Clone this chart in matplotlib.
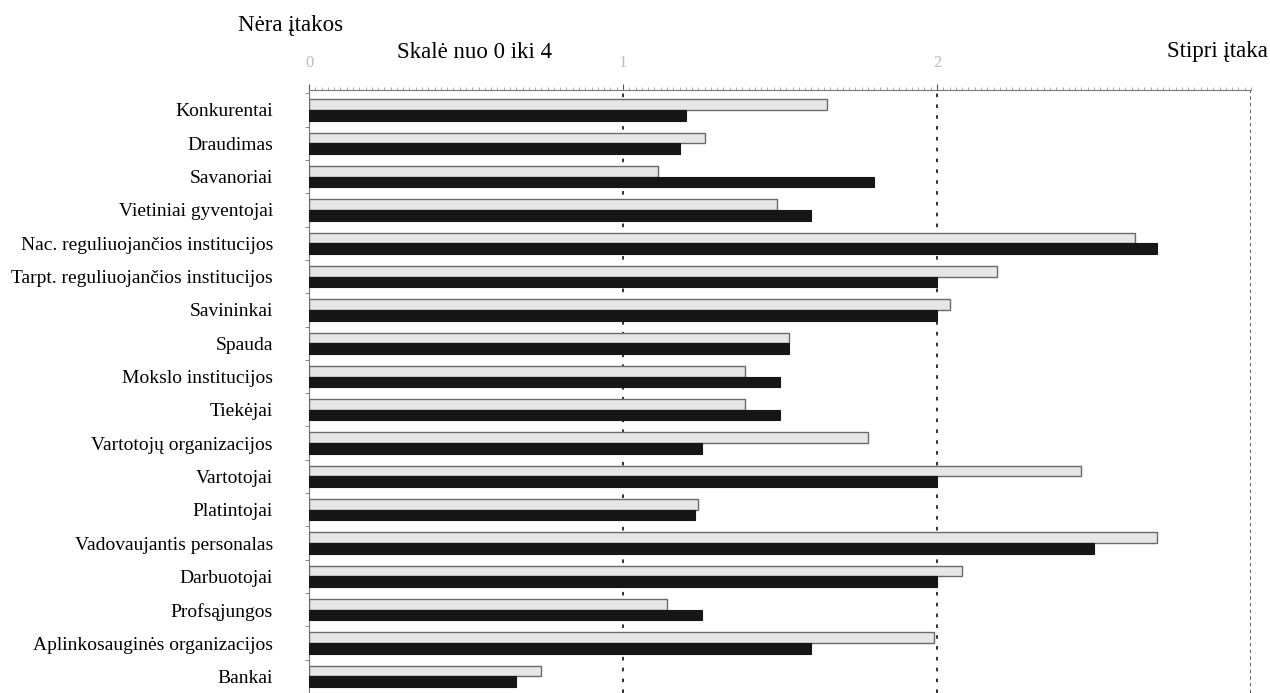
import numpy as np
import matplotlib.pyplot as plt
from matplotlib.ticker import MultipleLocator

plt.rcParams['font.family'] = ['Liberation Serif', 'DejaVu Serif']

# row labels, top to bottom
categories = [
    "Konkurentai", "Draudimas", "Savanoriai", "Vietiniai gyventojai",
    "Nac. reguliuojančios institucijos", "Tarpt. reguliuojančios institucijos",
    "Savininkai", "Spauda", "Mokslo institucijos", "Tiekėjai",
    "Vartotojų organizacijos", "Vartotojai", "Platintojai",
    "Vadovaujantis personalas", "Darbuotojai", "Profsąjungos",
    "Aplinkosauginės organizacijos", "Bankai",
]
# light (upper) and dark (lower) bar of every row
light_vals = [1.65, 1.26, 1.11, 1.49, 2.63, 2.19, 2.04, 1.53, 1.39, 1.39,
              1.78, 2.46, 1.24, 2.70, 2.08, 1.14, 1.99, 0.74]
dark_vals = [1.20, 1.18, 1.80, 1.60, 2.70, 2.00, 2.00, 1.53, 1.50, 1.50,
             1.25, 2.00, 1.23, 2.50, 2.00, 1.25, 1.60, 0.66]
x_ticks = [0, 1, 2]

fig = plt.figure(figsize=(12.7, 6.93), dpi=100)
ax = fig.add_axes([309 / 1270, 0.0, (1251 - 309) / 1270, 1 - 90 / 693])

y = np.arange(len(categories))
h = 0.32
ax.barh(y - h / 2, light_vals, height=h, color='#e6e6e6', edgecolor='#6a6a6a', linewidth=1.0, zorder=3)
ax.barh(y + h / 2, dark_vals, height=h, color='#161616', edgecolor='#161616', linewidth=0.8, zorder=3)

ax.set_xlim(0, 3)
ax.set_ylim(len(categories) - 1 + 0.42, -0.6)

# vertical reference lines
for xv in [1, 2]:
    ax.axvline(xv, color='#222222', linestyle=(0, (2, 4)), linewidth=1.3, zorder=2)
ax.axvline(3, color='#444444', linestyle=(0, (2, 2)), linewidth=1.2, zorder=2)

ax.xaxis.tick_top()
ax.set_xticks(x_ticks)
ax.set_xticklabels([str(t) for t in x_ticks], color='#bdbdbd', fontsize=12)
ax.xaxis.set_minor_locator(MultipleLocator(0.02))
ax.tick_params(axis='x', which='major', length=4, color='#555555', pad=10)
ax.tick_params(axis='x', which='minor', length=2, color='#999999')

ax.set_yticks(y)
ax.set_yticklabels(categories, fontsize=14)
ax.set_yticks(np.arange(len(categories) + 1) - 0.5, minor=True)
ax.tick_params(axis='y', which='major', length=0, pad=26)
ax.tick_params(axis='y', which='minor', length=3, color='#777777')

for side in ['bottom', 'right']:
    ax.spines[side].set_visible(False)
ax.spines['top'].set_color('#777777')
ax.spines['left'].set_color('#777777')

fig.text(238 / 1270, 1 - 26 / 693, "Nėra įtakos", fontsize=16.5, va='center', ha='left')
fig.text(397 / 1270, 1 - 52 / 693, "Skalė nuo 0 iki 4", fontsize=16.5, va='center', ha='left')
fig.text(1268 / 1270, 1 - 51 / 693, "Stipri įtaka", fontsize=16.5, va='center', ha='right')

fig.savefig('out.png', dpi=100)
